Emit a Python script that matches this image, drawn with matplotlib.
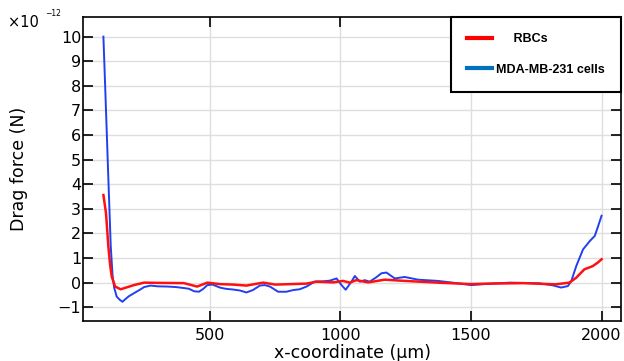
import matplotlib.pyplot as plt
from matplotlib.lines import Line2D

# values (force in units of 1e-12 N)
mda_x = [92, 100, 111, 120, 127, 133, 143, 155, 165, 175, 190, 209, 230, 248, 273, 300, 337,
         370, 400, 420, 439, 458, 475, 490, 510, 538, 560, 588, 615, 640, 665, 691, 710, 730,
         761, 793, 820, 844, 870, 901, 930, 959, 985, 1004, 1020, 1042, 1055, 1074, 1093, 1112,
         1135, 1157, 1176, 1208, 1246, 1297, 1373, 1437, 1500, 1564, 1650, 1762, 1813, 1845,
         1871, 1884, 1903, 1929, 1955, 1974, 1987, 2000]
mda_y = [10.0, 7.6, 4.2, 1.5, 0.3, -0.2, -0.57, -0.7, -0.78, -0.68, -0.55, -0.43, -0.3, -0.18,
         -0.12, -0.15, -0.16, -0.18, -0.22, -0.25, -0.35, -0.37, -0.25, -0.1, -0.08, -0.2, -0.25,
         -0.28, -0.32, -0.4, -0.3, -0.12, -0.1, -0.16, -0.37, -0.37, -0.3, -0.27, -0.16, 0.04,
         0.05, 0.08, 0.17, -0.1, -0.29, 0.04, 0.27, 0.04, 0.1, 0.04, 0.2, 0.38, 0.41, 0.17, 0.23,
         0.12, 0.07, -0.01, -0.1, -0.05, 0.0, -0.03, -0.11, -0.2, -0.14, 0.06, 0.67, 1.35, 1.69,
         1.9, 2.3, 2.72]

rbc_x = [92, 102, 111, 118, 124, 137, 158, 185, 209, 248, 300, 400, 451, 490, 538, 590, 640,
         704, 751, 870, 908, 972, 1010, 1035, 1061, 1106, 1170, 1246, 1373, 1437, 1500, 1564,
         1700, 1824, 1877, 1903, 1934, 1966, 1985, 2000]
rbc_y = [3.56, 2.82, 1.46, 0.7, 0.24, -0.16, -0.27, -0.18, -0.1, 0.0, -0.01, -0.02, -0.16, 0.0,
         -0.06, -0.08, -0.12, 0.0, -0.08, -0.04, 0.04, 0.01, 0.07, 0.0, 0.1, 0.01, 0.12, 0.07,
         0.0, -0.03, -0.06, -0.04, -0.02, -0.07, 0.0, 0.2, 0.54, 0.67, 0.81, 0.95]

xticks = [500, 1000, 1500, 2000]
yticks = list(range(-1, 11))

fig = plt.figure(figsize=(6.24, 3.61), dpi=100)
ax = fig.add_axes([0.1335, 0.1108, 0.8615, 0.8429])

ax.plot(rbc_x, rbc_y, color='#ff1010', lw=1.8, zorder=3)
ax.plot(mda_x, mda_y, color='#2040f0', lw=1.4, zorder=2)

ax.set_xlim(15, 2074)
ax.set_ylim(-1.56, 10.81)
ax.set_xticks(xticks)
ax.set_yticks(yticks)
ax.grid(True, color='#dedede', lw=1.0)
ax.set_axisbelow(True)
ax.tick_params(direction='in', length=7, width=1.2, top=True, right=True,
               labelsize=11.5, colors='black')
ax.tick_params(axis='x', pad=5)
ax.tick_params(axis='y', pad=1.5)
for s in ax.spines.values():
    s.set_linewidth(1.2)

ax.set_ylabel('Drag force (N)', fontsize=12.5)
ax.yaxis.set_label_coords(-0.102, 0.5)
ax.set_xlabel('x-coordinate (µm)', fontsize=12.5)
ax.xaxis.set_label_coords(0.5, -0.075)

fig.text(0.013, 0.925, '×10', fontsize=10.5)
fig.text(0.072, 0.955, '−12', fontsize=5.5)

handles = [Line2D([], [], color='#ff0000', lw=3),
           Line2D([], [], color='#0070c0', lw=3)]
leg = ax.legend(handles, ['     RBCs', 'MDA-MB-231 cells'], loc='upper right',
                bbox_to_anchor=(1.0, 1.0), borderaxespad=0, fancybox=False,
                edgecolor='black', framealpha=1, borderpad=1.3, labelspacing=1.5,
                handlelength=2.0, handletextpad=0.3,
                prop={'family': 'Liberation Sans', 'weight': 'bold', 'size': 9})
leg.get_frame().set_linewidth(1.5)

fig.savefig('out.png', dpi=100)
